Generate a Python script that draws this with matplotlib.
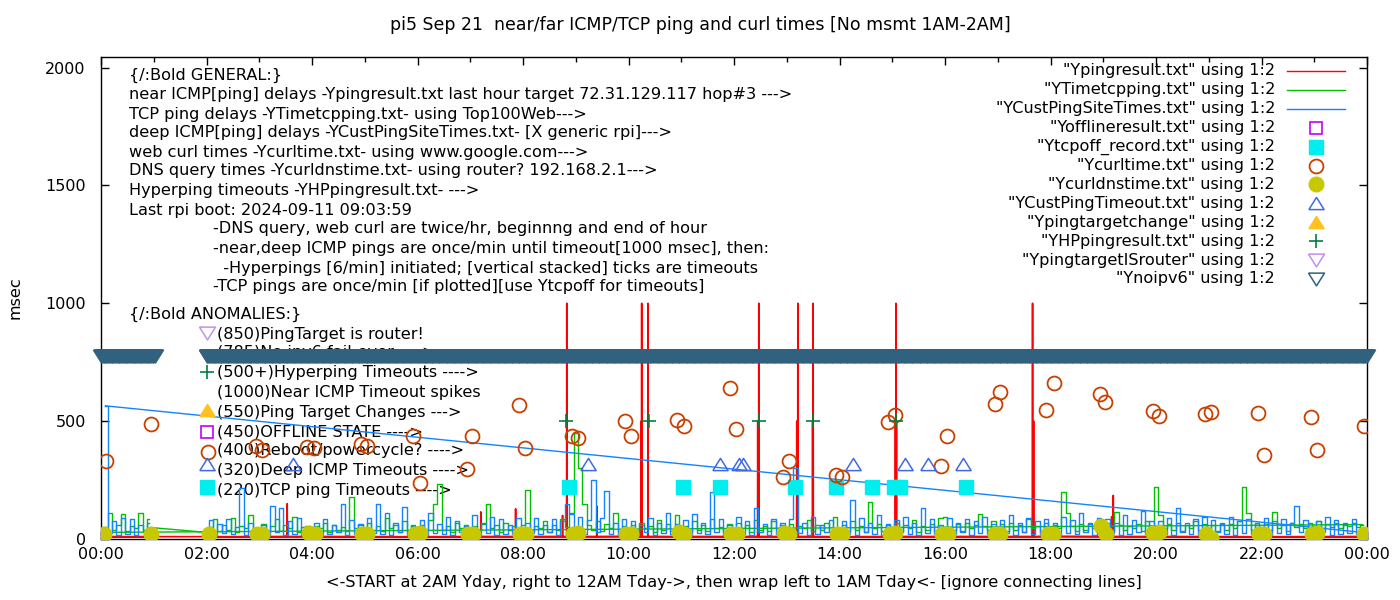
import matplotlib
matplotlib.use("Agg")
import matplotlib.pyplot as plt
import numpy as np

# x is hour of day. files are in time order: 2AM yday -> midnight, then wrap to 0AM -> 1AM
STEP = 5 / 60.0

# --- near ICMP (Ypingresult.txt): baseline + spikes
ping_day_t = [2.0, 4.0, 6.0, 8.0, 10.0, 12.0, 14.0, 16.0, 18.0, 20.0, 22.0, 23.95]
ping_day_v = [9, 10, 9, 10, 11, 10, 9, 10, 11, 10, 9, 10]
ping_am_t = [0.0, 0.5, 0.95]
ping_am_v = [10, 9, 10]
ping_spike_t = [3.53, 7.20, 7.86, 8.75, 8.83, 9.40, 10.24, 10.25, 10.37, 12.45, 12.47,
                13.19, 13.21, 13.49, 13.50, 15.06, 15.07, 15.08, 17.66, 17.68, 19.16, 19.19]
ping_spike_v = [150, 115, 128, 100, 1000, 140, 500, 1000, 1000, 500, 1000,
                500, 1000, 500, 1000, 500, 1000, 500, 1000, 500, 95, 185]

# --- TCP ping (YTimetcpping.txt), 5 min samples from 2:00, one row per hour
tcp_first = (0.93, 49)
tcp_day_v = [
    [28, 50, 85, 35, 60, 40, 90, 30, 55, 45, 100, 35],
    [40, 65, 30, 55, 85, 35, 60, 45, 95, 30, 50, 40],
    [35, 55, 45, 70, 30, 60, 40, 50, 35, 178, 45, 60],
    [30, 70, 40, 55, 35, 90, 45, 60, 30, 75, 40, 55],
    [45, 60, 35, 80, 150, 235, 40, 55, 30, 70, 45, 60],
    [35, 55, 40, 65, 150, 45, 60, 30, 70, 40, 55, 45],
    [60, 206, 35, 55, 45, 75, 30, 60, 40, 85, 50, 110],
    [448, 300, 150, 60, 40, 75, 35, 65, 45, 110, 30, 55],
    [40, 60, 35, 70, 45, 55, 30, 80, 40, 65, 35, 100],
    [45, 55, 30, 75, 40, 60, 35, 85, 45, 50, 30, 65],
    [35, 70, 45, 60, 30, 80, 40, 55, 35, 75, 45, 60],
    [40, 65, 30, 55, 45, 80, 35, 60, 40, 70, 30, 95],
    [45, 60, 35, 75, 40, 55, 30, 155, 45, 65, 35, 60],
    [40, 70, 35, 60, 45, 80, 30, 55, 40, 65, 35, 90],
    [95, 50, 40, 65, 35, 70, 45, 60, 105, 55, 40, 75],
    [45, 65, 35, 70, 40, 60, 30, 85, 45, 55, 35, 70],
    [40, 60, 45, 200, 110, 55, 35, 65, 40, 70, 45, 60],
    [45, 70, 35, 115, 60, 40, 55, 45, 65, 35, 75, 50],
    [220, 100, 45, 65, 40, 70, 35, 60, 45, 75, 40, 65],
    [45, 60, 35, 70, 40, 65, 45, 75, 220, 110, 40, 60],
    [50, 65, 40, 115, 45, 60, 35, 70, 50, 65, 45, 70],
    [55, 75, 45, 65, 50, 70, 45, 60, 55, 70, 50, 61],
]
tcp_am_v = [28, 50, 110, 40, 60, 105, 35, 55, 45, 110, 40, 85]   # from 0:00

# --- deep ICMP (YCustPingSiteTimes.txt), 5 min samples from 2:00
cust_day_v = [
    [22, 80, 18, 65, 25, 85, 20, 50, 215, 18, 70, 25],
    [20, 60, 15, 140, 28, 130, 18, 75, 22, 90, 16, 55],
    [25, 70, 18, 85, 20, 60, 28, 150, 16, 80, 22, 65],
    [18, 90, 25, 150, 20, 110, 15, 70, 28, 135, 18, 60],
    [24, 80, 16, 110, 26, 65, 20, 95, 18, 75, 28, 55],
    [20, 100, 18, 70, 26, 95, 15, 85, 22, 60, 20, 90],
    [18, 70, 26, 90, 20, 60, 28, 85, 15, 75, 150, 105],
    [25, 95, 20, 80, 250, 28, 90, 205, 22, 70, 18, 85],
    [20, 75, 15, 60, 28, 90, 18, 70, 25, 110, 20, 65],
    [22, 80, 18, 105, 26, 70, 20, 200, 28, 85, 15, 60],
    [25, 95, 20, 75, 18, 130, 28, 65, 15, 85, 22, 70],
    [20, 85, 300, 26, 70, 18, 95, 22, 60, 28, 80, 20],
    [26, 75, 20, 165, 18, 90, 28, 70, 22, 100, 15, 65],
    [22, 80, 28, 95, 20, 70, 18, 130, 25, 85, 20, 60],
    [18, 90, 22, 70, 28, 85, 15, 75, 26, 95, 20, 65],
    [20, 80, 26, 100, 18, 70, 28, 90, 22, 75, 15, 85],
    [22, 70, 18, 95, 26, 80, 20, 110, 28, 65, 18, 90],
    [20, 85, 26, 70, 18, 100, 22, 80, 28, 120, 20, 75],
    [26, 75, 20, 90, 18, 130, 28, 70, 22, 85, 15, 95],
    [20, 80, 28, 65, 22, 95, 18, 75, 26, 85, 20, 70],
    [22, 90, 18, 75, 26, 85, 20, 70, 140, 28, 80, 18],
    [20, 75, 28, 95, 18, 80, 22, 70, 26, 85, 20, 28],
]
cust_am_v = [565, 25, 75, 18, 90, 22, 85, 16, 60, 28, 70]   # from 0:05

# --- curl times (Ycurltime.txt)
curl_t = [0.095, 0.95, 2.03, 2.94, 3.06, 3.91, 4.04, 4.92, 5.05, 5.92, 6.04, 6.93, 7.04,
          7.92, 8.03, 8.92, 9.04, 9.93, 10.04, 10.92, 11.05, 11.92, 12.04, 12.93, 13.04,
          13.94, 14.05, 14.92, 15.06, 15.93, 16.04, 16.94, 17.05, 17.92, 18.06, 18.93,
          19.04, 19.94, 20.05, 20.92, 21.05, 21.93, 22.04, 22.94, 23.05, 23.94]
curl_v = [329, 486, 369, 393, 376, 389, 384, 401, 393, 435, 236, 295, 435,
          567, 384, 439, 427, 499, 439, 503, 478, 639, 465, 261, 329,
          270, 261, 495, 524, 308, 435, 571, 622, 546, 660, 614,
          580, 544, 522, 531, 537, 533, 355, 516, 376, 478]

# --- DNS times (Ycurldnstime.txt)
dns_t = [0.05, 0.95] + [h + d for h in range(2, 24) for d in (0.05, 0.95)]
dns_v = [22, 20, 23, 22, 21, 24, 22, 23, 20, 22, 24, 21, 22, 23, 21, 22, 24, 22, 20, 28,
         23, 21, 22, 24, 21, 23, 22, 20, 24, 22, 21, 23, 22, 21, 23, 57, 22, 24, 28, 21,
         6, 23, 22, 21, 24, 22]

# --- timeout markers
custto_t = [2.01, 3.64, 9.23, 11.73, 12.09, 12.17, 14.26, 15.25, 15.68, 16.35]
custto_v = [320] * len(custto_t)
tcpoff_t = [2.01, 8.87, 11.03, 11.73, 13.16, 13.94, 14.62, 15.04, 15.15, 16.39]
tcpoff_v = [220] * len(tcpoff_t)
hp_t = [2.01, 8.82, 10.39, 12.47, 13.50, 15.07]
hp_v = [707, 500, 500, 500, 500, 500]
offline_t, offline_v = [2.01], [452]
tchange_t, tchange_v = [2.01], [546]
isrouter_t, isrouter_v = [2.01], [873]

# --- no ipv6 (Ynoipv6), one per minute, no msmt 1AM-2AM
noipv6_min = list(range(0, 62)) + list(range(120, 1441))
noipv6_v = 777

general_lines = [
    "{/:Bold GENERAL:}",
    "near ICMP[ping] delays -Ypingresult.txt last hour target 72.31.129.117 hop#3 --->",
    "TCP ping delays -YTimetcpping.txt- using Top100Web--->",
    "deep ICMP[ping] delays -YCustPingSiteTimes.txt- [X generic rpi]--->",
    "web curl times -Ycurltime.txt- using www.google.com--->",
    "DNS query times -Ycurldnstime.txt- using router? 192.168.2.1--->",
    "Hyperping timeouts -YHPpingresult.txt- --->",
    "Last rpi boot: 2024-09-11 09:03:59",
    "-DNS query, web curl are twice/hr, beginnng and end of hour",
    "-near,deep ICMP pings are once/min until timeout[1000 msec], then:",
    "  -Hyperpings [6/min] initiated; [vertical stacked] ticks are timeouts",
    "-TCP pings are once/min [if plotted][use Ytcpoff for timeouts]",
]
anomaly_lines = [
    "{/:Bold ANOMALIES:}",
    "(850)PingTarget is router!",
    "(785)No ipv6 fail-over ---->",
    "(500+)Hyperping Timeouts ---->",
    "(1000)Near ICMP Timeout spikes",
    "(550)Ping Target Changes --->",
    "(450)OFFLINE STATE ---->",
    "(400)Reboot/powercycle? ---->",
    "(320)Deep ICMP Timeouts ---->",
    "(220)TCP ping Timeouts ---->",
]
legend_labels = [
    '"Ypingresult.txt" using 1:2', '"YTimetcpping.txt" using 1:2',
    '"YCustPingSiteTimes.txt" using 1:2', '"Yofflineresult.txt" using 1:2',
    '"Ytcpoff_record.txt" using 1:2', '"Ycurltime.txt" using 1:2',
    '"Ycurldnstime.txt" using 1:2', '"YCustPingTimeout.txt" using 1:2',
    '"Ypingtargetchange" using 1:2', '"YHPpingresult.txt" using 1:2',
    '"YpingtargetISrouter" using 1:2', '"Ynoipv6" using 1:2',
]
xtick_labels = ["00:00", "02:00", "04:00", "06:00", "08:00", "10:00", "12:00",
                "14:00", "16:00", "18:00", "20:00", "22:00", "00:00"]

RED, GREEN, BLUE = "#ff0000", "#00c000", "#1284ff"
C_OFF, C_TCPOFF, C_CURL, C_DNS = "#c000ff", "#00eeee", "#c84000", "#c8c800"
C_CUSTTO, C_TCHG, C_HP, C_ISR, C_V6 = "#4169e1", "#ffc020", "#008040", "#c090f0", "#30617f"
TRI_UP = [(-1, -0.8), (1, -0.8), (0, 0.8), (-1, -0.8)]
TRI_DN = [(-1, 0.8), (1, 0.8), (0, -0.8), (-1, 0.8)]
FS = 11.6


def spiky(base_t, base_v, spike_t, spike_v, w=0.004, lo=10):
    pts = list(zip(base_t, base_v))
    for t, v in zip(spike_t, spike_v):
        pts += [(t - w, lo), (t, v), (t + w, lo)]
    pts.sort()
    return [p[0] for p in pts], [p[1] for p in pts]


def plot_wrapped(ax, segs, color, z):
    # each segment drawn as sampled steps, consecutive segments joined like gnuplot does
    for i, (t, v) in enumerate(segs):
        ax.plot(t, v, color=color, lw=1.0, zorder=z, drawstyle="steps-mid")
        if i > 0:
            pt, pv = segs[i - 1]
            ax.plot([pt[-1], t[0]], [pv[-1], v[0]], color=color, lw=1.0, zorder=z)


fig = plt.figure(figsize=(14, 6), dpi=100)
ax = fig.add_axes([101 / 1400, 1 - 539 / 600, 1266 / 1400, 482 / 600])


def axx(px):
    return (px - 101) / 1266.0


def axy(py):
    return (539 - py) / 482.0


# near ICMP
rd_t, rd_v = spiky(ping_day_t, ping_day_v, [t for t in ping_spike_t if t >= 2],
                   [v for t, v in zip(ping_spike_t, ping_spike_v) if t >= 2])
ax.plot(rd_t + ping_am_t, rd_v + ping_am_v, color=RED, lw=1.2, zorder=2)

# TCP ping
tcp_day = np.concatenate(tcp_day_v)
tcp_t = 2.0 + STEP * np.arange(len(tcp_day))
tcp_am_t = STEP * np.arange(len(tcp_am_v))
plot_wrapped(ax, [([tcp_first[0]], [tcp_first[1]]), (tcp_t, tcp_day), (tcp_am_t, tcp_am_v)], GREEN, 3)

# deep ICMP
cust_day = np.concatenate(cust_day_v)
cust_t = 2.0 + STEP * np.arange(len(cust_day))
cust_am_t = STEP * (1 + np.arange(len(cust_am_v)))
plot_wrapped(ax, [(cust_t, cust_day), (cust_am_t, cust_am_v)], BLUE, 4)

ax.plot(offline_t, offline_v, ls="none", marker="s", ms=9, mfc="none", mec=C_OFF, mew=1.2, zorder=5)
ax.plot(tcpoff_t, tcpoff_v, ls="none", marker="s", ms=9.5, mfc=C_TCPOFF, mec=C_TCPOFF, zorder=5)
ax.plot(curl_t, curl_v, ls="none", marker="o", ms=10, mfc="none", mec=C_CURL, mew=1.3, zorder=6)
ax.plot(dns_t, dns_v, ls="none", marker="o", ms=10.5, mfc=C_DNS, mec=C_DNS, zorder=7)
ax.plot(custto_t, custto_v, ls="none", marker=TRI_UP, ms=11, mfc="none", mec=C_CUSTTO, mew=1.1, zorder=8)
ax.plot(tchange_t, tchange_v, ls="none", marker=TRI_UP, ms=11, mfc=C_TCHG, mec=C_TCHG, zorder=8)
ax.plot(hp_t, hp_v, ls="none", marker="+", ms=10, mec=C_HP, mew=1.2, zorder=9)
ax.plot(isrouter_t, isrouter_v, ls="none", marker=TRI_DN, ms=11.5, mfc="none", mec=C_ISR, mew=1.1, zorder=9)
ax.plot(np.array(noipv6_min) / 60.0, [noipv6_v] * len(noipv6_min), ls="none", marker=TRI_DN,
        ms=11.5, mfc="none", mec=C_V6, mew=1.1, zorder=10, clip_on=False)

# labels
gen_y = [75, 95, 114, 133, 152, 171, 190, 210, 229, 248, 268, 287]
for i, (line, py) in enumerate(zip(general_lines, gen_y)):
    ax.text(axx(129 if i < 8 else 213), axy(py), line, transform=ax.transAxes,
            ha="left", va="center", fontsize=FS, zorder=1)
ano_y = [314, 334, 353, 372, 392, 412, 432, 451, 470, 490]
for i, (line, py) in enumerate(zip(anomaly_lines, ano_y)):
    ax.text(axx(129 if i == 0 else 217), axy(py), line, transform=ax.transAxes,
            ha="left", va="center", fontsize=FS, zorder=1)

# legend drawn gnuplot style: right aligned text, sample to the right
leg_y = [71 + 18.9 * k for k in range(len(legend_labels))]
for k, (lab, py) in enumerate(zip(legend_labels, leg_y)):
    ax.text(axx(1275), axy(py), lab, transform=ax.transAxes, ha="right", va="center", fontsize=FS)
legend_styles = [
    dict(color=RED), dict(color=GREEN), dict(color=BLUE),
    dict(marker="s", ms=9, mfc="none", mec=C_OFF, mew=1.2),
    dict(marker="s", ms=9.5, mfc=C_TCPOFF, mec=C_TCPOFF),
    dict(marker="o", ms=10, mfc="none", mec=C_CURL, mew=1.3),
    dict(marker="o", ms=10.5, mfc=C_DNS, mec=C_DNS),
    dict(marker=TRI_UP, ms=11, mfc="none", mec=C_CUSTTO, mew=1.1),
    dict(marker=TRI_UP, ms=11, mfc=C_TCHG, mec=C_TCHG),
    dict(marker="+", ms=10, mec=C_HP, mew=1.2),
    dict(marker=TRI_DN, ms=11.5, mfc="none", mec=C_ISR, mew=1.1),
    dict(marker=TRI_DN, ms=11.5, mfc="none", mec=C_V6, mew=1.1),
]
for st, py in zip(legend_styles, leg_y):
    if "marker" in st:
        ax.plot([axx(1316)], [axy(py)], ls="none", transform=ax.transAxes, clip_on=False, **st)
    else:
        ax.plot([axx(1287), axx(1345)], [axy(py)] * 2, lw=1.0, transform=ax.transAxes, clip_on=False, **st)

ax.set_xlim(0, 24)
ax.set_ylim(0, 2045)
ax.set_xticks(range(0, 25, 2))
ax.set_xticklabels(xtick_labels)
ax.set_xticks(range(1, 24, 2), minor=True)
ax.set_yticks([0, 500, 1000, 1500, 2000])
ax.tick_params(which="both", direction="in", top=True, right=True, labelsize=11.5)
ax.tick_params(which="major", length=6, width=1)
ax.tick_params(which="minor", length=3.5, width=1)
ax.tick_params(axis="x", pad=6)
ax.tick_params(axis="y", pad=11)
for s in ax.spines.values():
    s.set_linewidth(1.0)

fig.text(0.5, 1 - 25 / 600, "pi5 Sep 21  near/far ICMP/TCP ping and curl times [No msmt 1AM-2AM]",
         ha="center", va="center", fontsize=12.5)
fig.text(734 / 1400, 1 - 583 / 600,
         "<-START at 2AM Yday, right to 12AM Tday->, then wrap left to 1AM Tday<- [ignore connecting lines]",
         ha="center", va="center", fontsize=FS)
fig.text(15 / 1400, 1 - 298 / 600, "msec", rotation=90, ha="center", va="center", fontsize=FS)

fig.savefig("out.png", dpi=100)
